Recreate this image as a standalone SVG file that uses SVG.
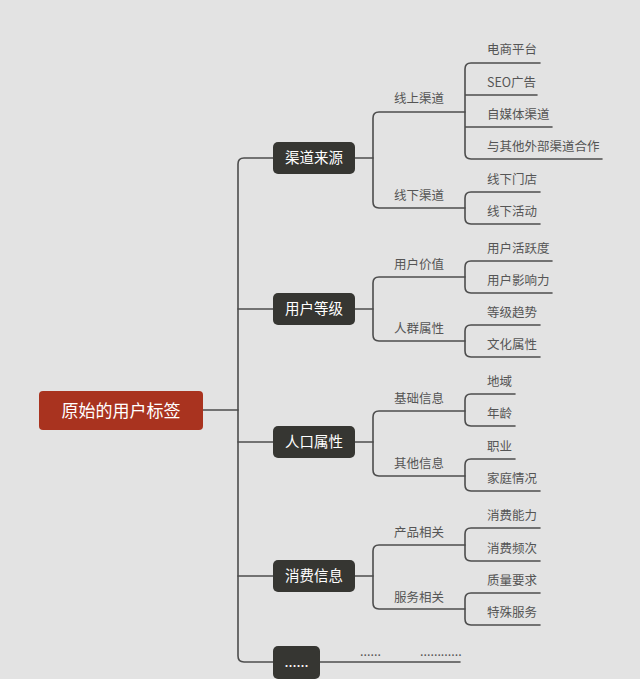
<svg xmlns="http://www.w3.org/2000/svg" width="640" height="679" viewBox="0 0 640 679">
<style>
.ln{fill:none;stroke:#4d4d4d;stroke-width:1.6;stroke-linecap:round}
.l1 rect{fill:#363632}
.l1 text{fill:#ffffff;font-family:"Noto Sans CJK SC","Noto Sans",sans-serif;font-size:14.5px;text-anchor:middle}
.t2{fill:#555555;font-family:"Noto Sans CJK SC","Noto Sans",sans-serif;font-size:12.5px}
.t3{fill:#555555;font-family:"Noto Sans CJK SC","Noto Sans",sans-serif;font-size:12.5px}
</style>
<rect width="640" height="679" fill="#e3e3e3"/>
<g id="connectors">
<path class="ln" d="M203 410H238"/>
<path class="ln" d="M273 158H244Q238 158 238 164V656Q238 662 244 662H460"/>
<path class="ln" d="M238 309H273M238 442H273M238 576H273"/>
<path class="ln" d="M355 158H373"/>
<path class="ln" d="M465 112H379Q373 112 373 118V202Q373 208 379 208H465"/>
<path class="ln" d="M540 63H471Q465 63 465 69V153Q465 159 471 159H602M465 95H537M465 127H552"/>
<path class="ln" d="M540 192H471Q465 192 465 198V218Q465 224 471 224H540"/>
<path class="ln" d="M355 309H373"/>
<path class="ln" d="M465 277H379Q373 277 373 283V335Q373 341 379 341H465"/>
<path class="ln" d="M552 261H471Q465 261 465 267V287Q465 293 471 293H552"/>
<path class="ln" d="M540 325H471Q465 325 465 331V351Q465 357 471 357H540"/>
<path class="ln" d="M355 442H373"/>
<path class="ln" d="M465 411H379Q373 411 373 417V470Q373 476 379 476H465"/>
<path class="ln" d="M515 394H471Q465 394 465 400V420Q465 426 471 426H515"/>
<path class="ln" d="M515 459H471Q465 459 465 465V485Q465 491 471 491H540"/>
<path class="ln" d="M355 576H373"/>
<path class="ln" d="M465 545H379Q373 545 373 551V603Q373 609 379 609H465"/>
<path class="ln" d="M540 528H471Q465 528 465 534V555Q465 561 471 561H540"/>
<path class="ln" d="M540 593H471Q465 593 465 599V619Q465 625 471 625H540"/>
</g>
<g id="root">
<rect x="39" y="391" width="164" height="39" rx="4" fill="#a9331f"/>
<text x="121" y="416.5" fill="#ffffff" font-family="'Noto Sans CJK SC','Noto Sans',sans-serif" font-size="17" text-anchor="middle">原始的用户标签</text>
</g>
<g id="n1" class="l1"><rect x="273" y="142" width="82" height="32" rx="5"/><text x="314" y="163">渠道来源</text></g>
<g id="n2" class="l1"><rect x="273" y="293" width="82" height="32" rx="5"/><text x="314" y="314">用户等级</text></g>
<g id="n3" class="l1"><rect x="273" y="426" width="82" height="32" rx="5"/><text x="314" y="447">人口属性</text></g>
<g id="n4" class="l1"><rect x="273" y="560" width="82" height="32" rx="5"/><text x="314" y="581">消费信息</text></g>
<g id="n5" class="l1"><rect x="273" y="646" width="47" height="33" rx="5"/><text x="296.5" y="667">......</text></g>
<g id="l2">
<text class="t2" x="394" y="102.5">线上渠道</text>
<text class="t2" x="394" y="199.5">线下渠道</text>
<text class="t2" x="394" y="268.5">用户价值</text>
<text class="t2" x="394" y="332.5">人群属性</text>
<text class="t2" x="394" y="402.5">基础信息</text>
<text class="t2" x="394" y="467.5">其他信息</text>
<text class="t2" x="394" y="536.5">产品相关</text>
<text class="t2" x="394" y="601.5">服务相关</text>
<text class="t2" x="360" y="656">......</text>
</g>
<g id="l3">
<text class="t3" x="487" y="54">电商平台</text>
<text class="t3" x="487" y="86.5">SEO广告</text>
<text class="t3" x="487" y="118.5">自媒体渠道</text>
<text class="t3" x="487" y="150.5">与其他外部渠道合作</text>
<text class="t3" x="487" y="183.5">线下门店</text>
<text class="t3" x="487" y="215.5">线下活动</text>
<text class="t3" x="487" y="252.5">用户活跃度</text>
<text class="t3" x="487" y="284.5">用户影响力</text>
<text class="t3" x="487" y="316.5">等级趋势</text>
<text class="t3" x="487" y="349">文化属性</text>
<text class="t3" x="487" y="386">地域</text>
<text class="t3" x="487" y="418">年龄</text>
<text class="t3" x="487" y="451">职业</text>
<text class="t3" x="487" y="483">家庭情况</text>
<text class="t3" x="487" y="520">消费能力</text>
<text class="t3" x="487" y="553">消费频次</text>
<text class="t3" x="487" y="585">质量要求</text>
<text class="t3" x="487" y="617">特殊服务</text>
<text class="t3" x="420" y="656">............</text>
</g>
</svg>
